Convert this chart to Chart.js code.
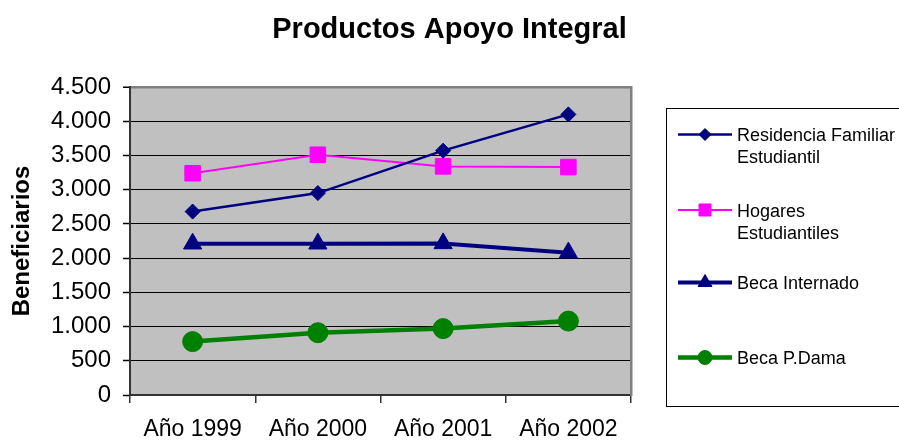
<!DOCTYPE html>
<html><head><meta charset="utf-8">
<script src="https://cdn.jsdelivr.net/npm/chart.js@4.4.1/dist/chart.umd.min.js"></script>
<style>html,body{margin:0;padding:0;background:#fff;}#wrap{width:899px;height:443px;}</style>
</head><body><div id="wrap"><canvas id="c" width="899" height="443"></canvas></div>
<script>
const years = ['Año 1999', 'Año 2000', 'Año 2001', 'Año 2002'];
const residencia = [2680, 2950, 3570, 4100];
const hogares = [3240, 3510, 3340, 3330];
const internado = [2210, 2210, 2215, 2080];
const dama = [780, 910, 970, 1080];
const seriesNames = ['Residencia Familiar Estudiantil', 'Hogares Estudiantiles', 'Beca Internado', 'Beca P.Dama'];
const legendLines = [['Residencia Familiar', 'Estudiantil'], ['Hogares', 'Estudiantiles'], ['Beca Internado'], ['Beca P.Dama']];
const yMin = 0, yMax = 4500, yStep = 500;
const titleText = 'Productos Apoyo Integral';
const yTitle = 'Beneficiarios';

const FONT = "'Liberation Sans', Arial, Helvetica, sans-serif";
Chart.defaults.font.family = FONT;
Chart.defaults.color = '#000';

function fmt(v) { return String(v).replace(/\B(?=(\d{3})+(?!\d))/g, '.'); }

const bgPlugin = {
  id: 'bg',
  beforeDraw(chart) {
    const {ctx, chartArea: a} = chart;
    ctx.save();
    ctx.fillStyle = '#fff';
    ctx.fillRect(0, 0, chart.width, chart.height);
    ctx.fillStyle = '#C0C0C0';
    ctx.fillRect(a.left, a.top, a.right - a.left, a.bottom - a.top);
    ctx.restore();
  }
};

const legendRadius = [6, 8.5, 8, 7];
const legendPlugin = {
  id: 'boxLegend',
  afterDraw(chart) {
    const ctx = chart.ctx;
    ctx.save();
    ctx.strokeStyle = '#000';
    ctx.lineWidth = 1;
    ctx.strokeRect(666.5, 108.5, 260, 298);
    const rowsY = [134.5, 210, 282.5, 357.5];
    chart.data.datasets.forEach((ds, i) => {
      const y = rowsY[i];
      ctx.strokeStyle = ds.borderColor;
      ctx.lineWidth = ds.borderWidth;
      ctx.beginPath(); ctx.moveTo(678, y); ctx.lineTo(732, y); ctx.stroke();
      ctx.fillStyle = ds.pointBackgroundColor;
      ctx.strokeStyle = ds.pointBorderColor;
      ctx.lineWidth = 1;
      Chart.helpers.drawPoint(ctx, {pointStyle: ds.pointStyle, radius: legendRadius[i], borderWidth: 1, rotation: 0}, 705, y);
      ctx.fillStyle = '#000';
      ctx.font = '18px ' + FONT;
      ctx.textBaseline = 'middle';
      ctx.textAlign = 'left';
      legendLines[i].forEach((t, k) => ctx.fillText(t, 737, y + 2 + k * 22));
    });
    ctx.restore();
  }
};

new Chart(document.getElementById('c'), {
  type: 'line',
  data: {
    labels: years,
    datasets: [
      {label: seriesNames[0], data: residencia, borderColor: '#000080', borderWidth: 2.5, pointStyle: 'rectRot', pointRadius: 7.5, pointBackgroundColor: '#000080', pointBorderColor: '#000080', pointBorderWidth: 1, tension: 0},
      {label: seriesNames[1], data: hogares, borderColor: '#FF00FF', borderWidth: 2, pointStyle: 'rect', pointRadius: 11, pointBackgroundColor: '#FF00FF', pointBorderColor: '#FF00FF', pointBorderWidth: 1, tension: 0},
      {label: seriesNames[2], data: internado, borderColor: '#000080', borderWidth: 4, pointStyle: 'triangle', pointRadius: 10.5, pointBackgroundColor: '#000080', pointBorderColor: '#000080', pointBorderWidth: 1, tension: 0},
      {label: seriesNames[3], data: dama, borderColor: '#008000', borderWidth: 4.5, pointStyle: 'circle', pointRadius: 10, pointBackgroundColor: '#008000', pointBorderColor: '#008000', pointBorderWidth: 1, tension: 0}
    ]
  },
  options: {
    responsive: false,
    animation: false,
    events: [],
    layout: {padding: 0},
    plugins: {
      legend: {display: false},
      tooltip: {enabled: false},
      title: {display: true, text: titleText, font: {size: 29, weight: 'bold', family: FONT}, color: '#000', padding: {top: 13, bottom: 39.2}}
    },
    scales: {
      x: {
        type: 'category',
        offset: true,
        grid: {offset: true, drawOnChartArea: false, drawTicks: true, tickLength: 8, tickColor: '#333', lineWidth: 1.5},
        border: {display: true, color: '#333', width: 2},
        ticks: {font: {size: 23}, color: '#000', padding: 13, maxRotation: 0, autoSkip: false},
        afterFit(s) { s.height = 48; }
      },
      y: {
        min: yMin, max: yMax,
        ticks: {stepSize: yStep, font: {size: 24}, color: '#000', padding: 12, callback: v => fmt(v)},
        grid: {
          color: c => (c.tick && c.tick.value === yMax) ? '#808080' : '#000',
          lineWidth: c => (c.tick && c.tick.value === yMax) ? 2.5 : 1,
          tickLength: 7, tickColor: '#000', tickWidth: 1.5
        },
        border: {display: true, color: '#333', width: 2},
        title: {display: true, text: yTitle, font: {size: 24, weight: 'bold'}, color: '#000', padding: {top: 8, bottom: 0}},
        afterFit(s) { s.width = 130; }
      },
      yRight: {
        type: 'linear', position: 'right', display: true,
        grid: {drawOnChartArea: false, drawTicks: false},
        ticks: {display: false},
        border: {display: true, color: '#808080', width: 2.5},
        afterFit(s) { s.width = 268; }
      }
    }
  },
  plugins: [bgPlugin, legendPlugin]
});
</script>
</body></html>
